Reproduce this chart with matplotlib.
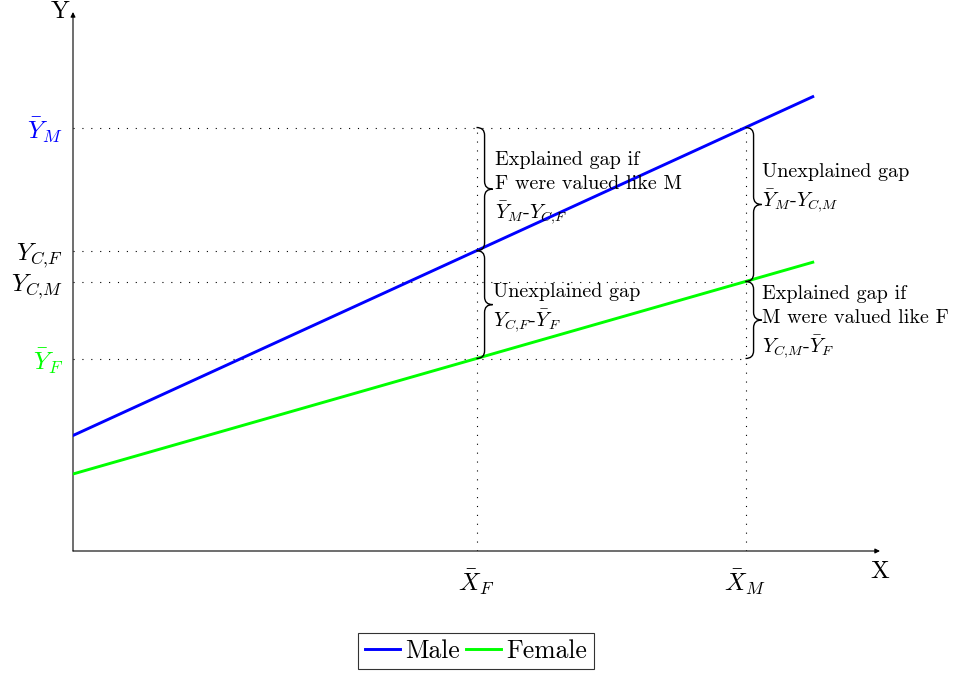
import matplotlib
matplotlib.use("Agg")
import matplotlib.pyplot as plt
from matplotlib.path import Path
from matplotlib.patches import PathPatch

plt.rcParams["font.family"] = "serif"
plt.rcParams["font.serif"] = ["cmr10"]
plt.rcParams["mathtext.fontset"] = "cm"
plt.rcParams["axes.unicode_minus"] = False

# line end points
x_line = [0, 11]
male_y = [1.5, 5.9]
female_y = [1.0, 3.75]

# group means and counterfactuals
X_F, X_M = 6, 10
Y_M, Y_CF, Y_CM, Y_F = 5.5, 3.9, 3.5, 2.5

ytick_vals = [Y_M, Y_CF, Y_CM, Y_F]
ytick_labels = [r"$\bar{Y}_M$", r"$Y_{C{,}F}$", r"$Y_{C{,}M}$", r"$\bar{Y}_F$"]
ytick_colors = ["blue", "black", "black", "lime"]
xtick_vals = [X_F, X_M]
xtick_labels = [r"$\bar{X}_F$", r"$\bar{X}_M$"]

fig = plt.figure(figsize=(9.55, 6.73), dpi=100)
ax = fig.add_axes([73 / 955, 122 / 673, 807 / 955, 539 / 673])
ax.set_xlim(0, 12)
ax.set_ylim(0, 7)
for s in ax.spines.values():
    s.set_visible(False)

# axes with arrows
arr = dict(arrowstyle="-|>", lw=0.8, color="black", mutation_scale=7, shrinkA=0, shrinkB=0)
ax.annotate("", xy=(12, 0), xytext=(0, 0), arrowprops=arr, annotation_clip=False)
ax.annotate("", xy=(0, 7), xytext=(0, 0), arrowprops=arr, annotation_clip=False)
ax.text(12, -0.13, "X", fontsize=18, ha="center", va="top")
ax.text(-0.05, 7, "Y", fontsize=18, ha="right", va="center")

ax.plot(x_line, male_y, color="blue", lw=2.1, label="Male", zorder=3)
ax.plot(x_line, female_y, color="lime", lw=2.1, label="Female", zorder=3)

# dotted guides
dot = dict(color="black", lw=0.8, ls=(0, (1, 7)))
for yv in [Y_M, Y_CM, Y_F]:
    ax.plot([0, X_M], [yv, yv], **dot)
ax.plot([0, X_F], [Y_CF, Y_CF], **dot)
for xv in [X_F, X_M]:
    ax.plot([xv, xv], [0, Y_M], **dot)

ax.set_xticks(xtick_vals)
ax.set_xticklabels(xtick_labels, fontsize=18)
ax.set_yticks(ytick_vals)
ax.set_yticklabels(ytick_labels, fontsize=18)
for lab, c in zip(ax.get_yticklabels(), ytick_colors):
    lab.set_color(c)
ax.tick_params(axis="y", length=0, pad=7)
ax.tick_params(axis="x", length=0, pad=12)


def brace(x, y0, y1, aw=0.24, ah=0.1):
    ym = (y0 + y1) / 2
    h = aw / 2
    verts = [(x, y0), (x + h, y0), (x + h, y0 + ah),
             (x + h, ym - ah), (x + h, ym), (x + aw, ym),
             (x + h, ym), (x + h, ym + ah),
             (x + h, y1 - ah), (x + h, y1), (x, y1)]
    codes = [Path.MOVETO, Path.CURVE3, Path.CURVE3, Path.LINETO,
             Path.CURVE3, Path.CURVE3, Path.CURVE3, Path.CURVE3,
             Path.LINETO, Path.CURVE3, Path.CURVE3]
    ax.add_patch(PathPatch(Path(verts, codes), fill=False, lw=1.0, color="black", zorder=4))


brace(X_F, Y_CF, Y_M)
brace(X_F, Y_F, Y_CF)
brace(X_M, Y_CM, Y_M)
brace(X_M, Y_F, Y_CM)

tk = dict(fontsize=14.5, ha="left", va="center", linespacing=1.38, zorder=5)
ax.text(X_F + 0.27, (Y_M + Y_CF) / 2,
        "Explained gap if\nF were valued like M\n" + r"$\bar{Y}_M$-$Y_{C{,}F}$", **tk)
ax.text(X_F + 0.24, (Y_CF + Y_F) / 2 - 0.06,
        "Unexplained gap\n" + r"$Y_{C{,}F}$-$\bar{Y}_F$", **tk)
ax.text(X_M + 0.24, (Y_M + Y_CM) / 2 + 0.2,
        "Unexplained gap\n" + r"$\bar{Y}_M$-$Y_{C{,}M}$", **tk)
ax.text(X_M + 0.24, (Y_CM + Y_F) / 2 - 0.04,
        "Explained gap if\nM were valued like F\n" + r"$Y_{C{,}M}$-$\bar{Y}_F$", **tk)

leg = fig.legend(loc="center", bbox_to_anchor=(476 / 955, 1 - 651 / 673), ncol=2,
                 fontsize=18.5, frameon=True, fancybox=False, edgecolor="black",
                 handlelength=1.4, handletextpad=0.2, columnspacing=0.2,
                 borderpad=0.25, borderaxespad=0)
leg.get_frame().set_linewidth(0.8)

fig.savefig("out.png", dpi=100)
